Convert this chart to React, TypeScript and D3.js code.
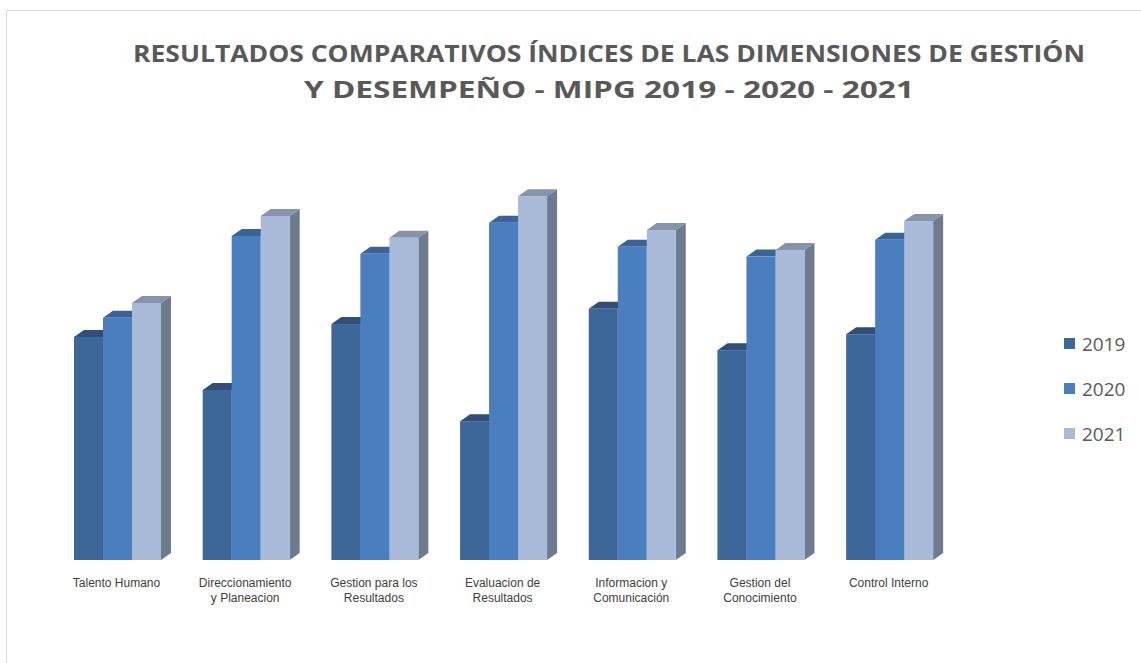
import React from "react";
import * as d3 from "d3";

const categories: string[][] = [
  ["Talento Humano"],
  ["Direccionamiento", "y Planeacion"],
  ["Gestion para los", "Resultados"],
  ["Evaluacion de", "Resultados"],
  ["Informacion y", "Comunicación"],
  ["Gestion del", "Conocimiento"],
  ["Control Interno"],
];
const seriesNames = ["2019", "2020", "2021"];
const values2019 = [57.2, 43.6, 60.5, 35.6, 64.4, 53.8, 57.9];
const values2020 = [62.1, 83.1, 78.5, 86.5, 80.3, 77.8, 82.1];
const values2021 = [65.9, 88.2, 82.6, 93.3, 84.6, 79.5, 86.9];
const titleLines = [
  "RESULTADOS COMPARATIVOS ÍNDICES DE LAS DIMENSIONES DE GESTIÓN",
  "Y DESEMPEÑO - MIPG 2019 - 2020 - 2021",
];

const frontColors = ["#3D6699", "#4A7EBF", "#A9B9D8"];
const topColors = ["#2E4F7A", "#3A6499", "#8793AD"];
const sideColors = ["#2C4A72", "#3A5F8E", "#6E7A8E"];

export default function App() {
  const W = 1141;
  const H = 663;
  const base = 560;
  const dx = 10;
  const dy = 7;
  const series = [values2019, values2020, values2021];
  const catKeys = categories.map((c) => c.join(" "));

  const x0 = d3
    .scaleBand<string>()
    .domain(catKeys)
    .range([53.15, 954])
    .paddingInner(0.324)
    .paddingOuter(0.162);
  const x1 = d3
    .scaleBand<string>()
    .domain(seriesNames)
    .range([0, x0.bandwidth()])
    .padding(0);
  const y = d3.scaleLinear().domain([0, 100]).range([base, 170]);

  const bars: React.ReactNode[] = [];
  catKeys.forEach((ck, ci) => {
    seriesNames.forEach((sn, si) => {
      const x = (x0(ck) as number) + (x1(sn) as number);
      const w = x1.bandwidth();
      const top = y(series[si][ci]);
      const side = `M${x + w},${top} L${x + w + dx},${top - dy} L${x + w + dx},${base - dy} L${x + w},${base} Z`;
      const topFace = `M${x},${top} L${x + w},${top} L${x + w + dx},${top - dy} L${x + dx},${top - dy} Z`;
      bars.push(
        <g key={`${ci}-${si}`}>
          <path d={side} fill={sideColors[si]} />
          <path d={topFace} fill={topColors[si]} />
          <rect x={x} y={top} width={w} height={base - top} fill={frontColors[si]} />
        </g>
      );
    });
  });

  return (
    <svg
      width={W}
      height={H}
      style={{ position: "absolute", left: 0, top: 0, background: "#fff" }}
    >
      <rect x={0} y={0} width={W} height={H} fill="#fff" />
      <rect x={6.5} y={10.5} width={1170} height={700} fill="#fff" stroke="#D9D9D9" strokeWidth={1} />
      {titleLines.map((t, i) => (
        <text
          key={i}
          x={609}
          y={62 + i * 36}
          textAnchor="middle"
          fontFamily="'Open Sans', sans-serif"
          fontWeight="bold"
          fontSize={24}
          fill="#595959"
          textLength={i === 0 ? 952 : 610}
          lengthAdjust="spacingAndGlyphs"
        >
          {t}
        </text>
      ))}
      {bars}
      {categories.map((lines, ci) => {
        const cx = (x0(catKeys[ci]) as number) + x0.bandwidth() / 2;
        return (
          <text
            key={ci}
            textAnchor="middle"
            fontFamily="'Liberation Sans', Arial, sans-serif"
            fontSize={12}
            fill="#404040"
          >
            {lines.map((l, li) => (
              <tspan key={li} x={cx - 1} y={587 + li * 14.5}>
                {l}
              </tspan>
            ))}
          </text>
        );
      })}
      {seriesNames.map((sn, si) => (
        <g key={sn}>
          <rect x={1064} y={338 + si * 45} width={11} height={11} fill={frontColors[si]} />
          <text
            x={1082}
            y={344 + si * 45}
            dy="0.36em"
            fontFamily="'Open Sans', sans-serif"
            fontSize={19}
            fill="#595959"
          >
            {sn}
          </text>
        </g>
      ))}
    </svg>
  );
}
